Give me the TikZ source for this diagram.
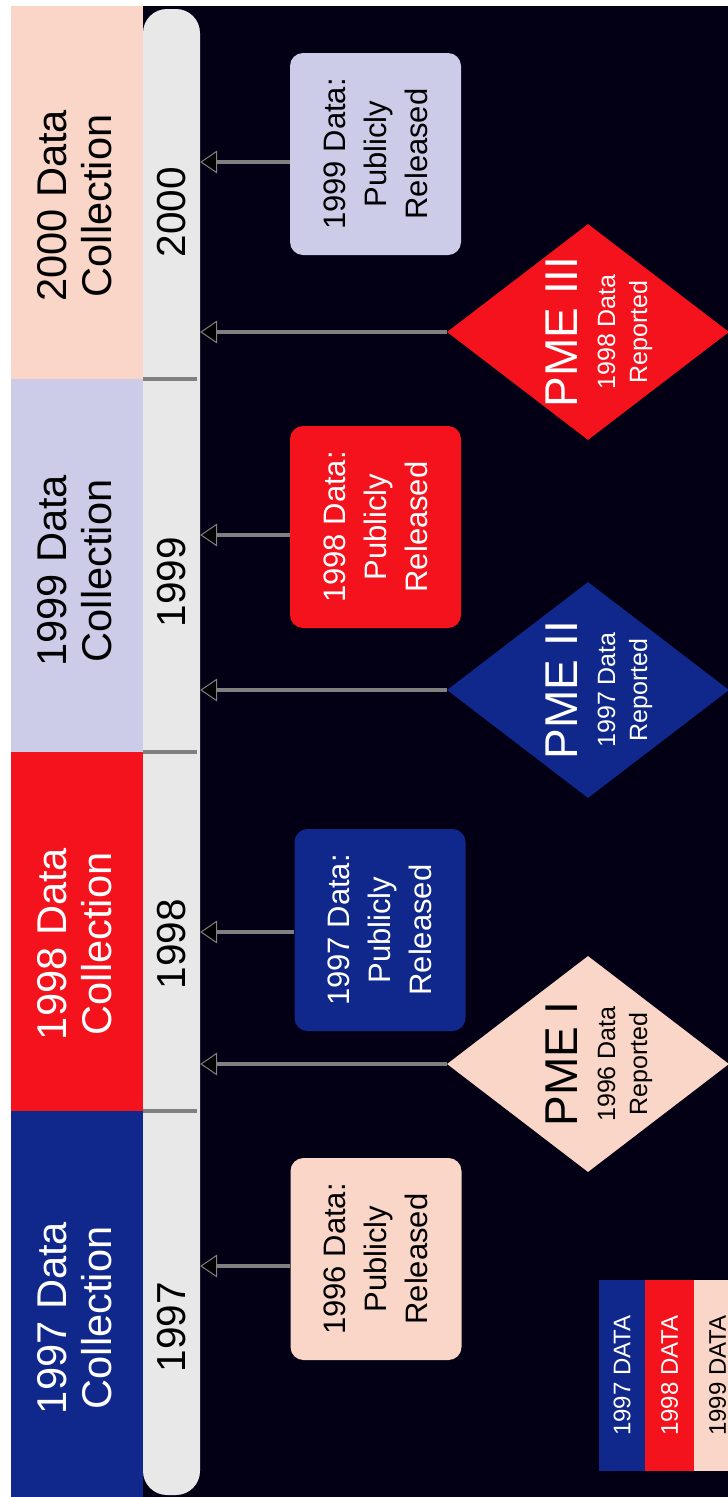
\documentclass[tikz,border=0pt]{standalone}
\usepackage{fontspec}
\setmainfont{Liberation Sans}
\usetikzlibrary{shapes.geometric, arrows.meta, calc}
\definecolor{bgdark}{RGB}{3,0,22}
\definecolor{peach}{RGB}{250,214,200}
\definecolor{lav}{RGB}{204,204,232}
\definecolor{redc}{RGB}{244,18,28}
\definecolor{navy}{RGB}{16,40,140}
\definecolor{barfill}{RGB}{232,232,232}
\definecolor{linegray}{RGB}{128,128,128}
\tikzstyle{yearlbl} = [rotate=90, inner sep=0, font=\fontsize{40.5}{44}\selectfont]
\tikzstyle{collbl} = [rotate=90, inner sep=0, align=center, font=\fontsize{41.6}{45}\selectfont]
\tikzstyle{pubbox} = [rectangle, rounded corners=13pt, rotate=90, minimum width=202pt, minimum height=171pt, inner sep=0, align=center, font=\fontsize{31}{41}\selectfont]
\tikzstyle{pme} = [diamond, rotate=90, minimum width=216pt, minimum height=282pt, inner sep=0]
\tikzstyle{pmetxt} = [rotate=90, inner sep=0, align=center, font=\fontsize{25}{32}\selectfont]
\tikzstyle{legcell} = [rectangle, rotate=90, minimum width=191pt, inner sep=0, font=\fontsize{24}{24}\selectfont]
\tikzstyle{tickline} = [linegray, line width=4pt]
\tikzstyle{arr} = [linegray, line width=4pt, -{Triangle[length=17pt, width=23pt, fill=black, line width=1pt 0]}]

\begin{document}
\begin{tikzpicture}[x=1pt, y=-1pt]
    \useasboundingbox (0,0) rectangle (728,1497);
    \clip (0,0) rectangle (728,1497);
    % Background
    \fill[white] (0,0) rectangle (728,1497);
    \fill[bgdark] (11,6) rectangle (728,1497);

    % Collection bands
    \fill[peach] (11,6) rectangle (143,379);
    \fill[lav] (11,379) rectangle (143,752);
    \fill[redc] (11,752) rectangle (143,1111);
    \fill[navy] (11,1111) rectangle (143,1497);
    \node (lab2000) [collbl] at (74.5,206) {2000 Data\\Collection};
    \node (lab1999) [collbl] at (74.5,571) {1999 Data\\Collection};
    \node (lab1998) [collbl, text=white] at (74.5,944) {1998 Data\\Collection};
    \node (lab1997) [collbl, text=white] at (74.5,1318) {1997 Data\\Collection};

    % Timeline bar
    \node (bar) [fill=barfill, rounded corners=24pt, minimum width=57pt, minimum height=1486pt, inner sep=0] at (171.5,752) {};
    \foreach \yy in {379,752,1111}
        \draw[tickline] (143,\yy) -- (197,\yy);
    \node (y2000) [yearlbl] at (172,212) {2000};
    \node (y1999) [yearlbl] at (172,582) {1999};
    \node (y1998) [yearlbl] at (172,944) {1998};
    \node (y1997) [yearlbl] at (172,1327) {1997};

    % Release boxes
    \node (b1999) [pubbox, fill=lav] at (375.5,154) {1999 Data:\\Publicly\\Released};
    \node (b1998) [pubbox, fill=redc, text=white] at (375.5,527) {1998 Data:\\Publicly\\Released};
    \node (b1997) [pubbox, fill=navy, text=white] at (380,930) {1997 Data:\\Publicly\\Released};
    \node (b1996) [pubbox, fill=peach] at (376,1259) {1996 Data:\\Publicly\\Released};

    % PME diamonds
    \node (pme3) [pme, fill=redc] at (588,332) {};
    \node (pme2) [pme, fill=navy] at (588,690) {};
    \node (pme1) [pme, fill=peach] at (588,1064) {};
    \node (pme3txt) [pmetxt, text=white] at (599,332) {{\fontsize{46}{46}\selectfont PME III}\\[6pt]1998 Data\\Reported};
    \node (pme2txt) [pmetxt, text=white] at (599,690) {{\fontsize{46}{46}\selectfont PME II}\\[6pt]1997 Data\\Reported};
    \node (pme1txt) [pmetxt] at (599,1064) {{\fontsize{46}{46}\selectfont PME I}\\[6pt]1996 Data\\Reported};

    % Arrows
    \draw[arr] ($(b1999.north)+(0,8)$) -- ($(b1999.north -| bar.east)+(0,8)$);
    \draw[arr] (pme3.north) -- (pme3.north -| bar.east);
    \draw[arr] ($(b1998.north)+(0,8)$) -- ($(b1998.north -| bar.east)+(0,8)$);
    \draw[arr] (pme2.north) -- (pme2.north -| bar.east);
    \draw[arr] ($(b1997.north)+(0,2)$) -- ($(b1997.north -| bar.east)+(0,2)$);
    \draw[arr] (pme1.north) -- (pme1.north -| bar.east);
    \draw[arr] ($(b1996.north)+(0,7)$) -- ($(b1996.north -| bar.east)+(0,7)$);

    % Legend
    \node (leg97) [legcell, fill=navy, text=white, minimum height=46pt] at (622,1375.5) {1997 DATA};
    \node (leg98) [legcell, fill=redc, text=white, minimum height=49pt] at (669.5,1375.5) {1998 DATA};
    \node (leg99) [legcell, fill=peach, minimum height=47pt] at (717.5,1375.5) {1999 DATA};
\end{tikzpicture}
\end{document}
